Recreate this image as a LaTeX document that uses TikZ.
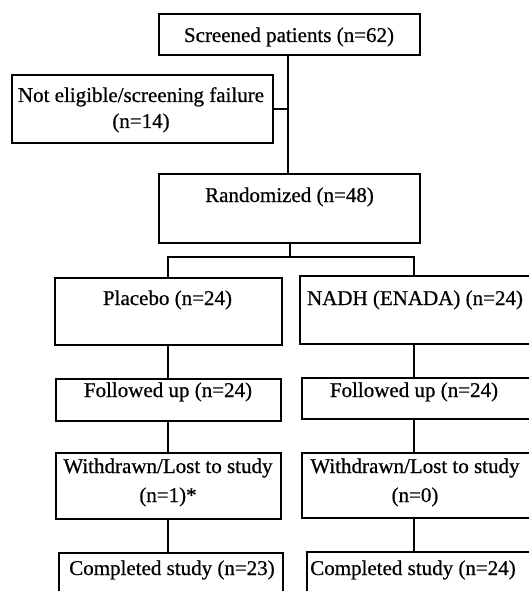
\documentclass[tikz,border=0pt]{standalone}
\usepackage{fontspec}
\setmainfont{Liberation Serif}
\newfontfamily\heavy{Liberation Serif}[FakeBold=0.7]
\begin{document}
\begin{tikzpicture}[x=1pt,y=-1pt,
  box/.style={draw, line width=1.6pt, inner sep=0pt, anchor=north west},
  txt/.style={anchor=base, inner sep=0pt, font=\heavy\fontsize{21}{26}\selectfont},
  link/.style={line width=1.6pt}]
\useasboundingbox (0,0) rectangle (529,591);
\clip (0,0) rectangle (529,591);
% boxes
\node[box, minimum width=261pt, minimum height=41pt] (scr) at (158,13) {};
\node[box, minimum width=261pt, minimum height=68pt] (ne)  at (11,74) {};
\node[box, minimum width=261pt, minimum height=69pt] (rnd) at (158,173) {};
\node[box, minimum width=227pt, minimum height=67pt] (pla) at (54,277) {};
\node[box, minimum width=234pt, minimum height=68pt] (nad) at (299,275) {};
\node[box, minimum width=225pt, minimum height=42pt] (fl)  at (55,378) {};
\node[box, minimum width=232pt, minimum height=41pt] (fr)  at (301,377) {};
\node[box, minimum width=225pt, minimum height=66pt] (wl)  at (55,452) {};
\node[box, minimum width=232pt, minimum height=65pt] (wr)  at (301,452) {};
\node[box, minimum width=224pt, minimum height=48pt] (cl)  at (58,552) {};
\node[box, minimum width=227pt, minimum height=48pt] (cr)  at (306,551) {};
% texts
\node[txt] (t1) at (289,42) {Screened patients (n=62)};
\node[txt] (t2a) at (141,102) {Not eligible/screening failure};
\node[txt] (t2b) at (141,128) {(n=14)};
\node[txt] (t3) at (289.5,202) {Randomized (n=48)};
\node[txt] (t4) at (167.5,305) {Placebo (n=24)};
\node[txt] (t5) at (415,305) {NADH (ENADA) (n=24)};
\node[txt] (t6) at (168,397) {Followed up (n=24)};
\node[txt] (t7) at (414,397) {Followed up (n=24)};
\node[txt] (t8a) at (168,473) {Withdrawn/Lost to study};
\node[txt] (t8b) at (168,502) {(n=1)*};
\node[txt] (t9a) at (415,473) {Withdrawn/Lost to study};
\node[txt] (t9b) at (415,502) {(n=0)};
\node[txt] (t10) at (172,575) {Completed study (n=23)};
\node[txt] (t11) at (413,575) {Completed study (n=24)};
% helper coordinates
\coordinate (trunk) at (288,0);
\coordinate (bar) at (290,257);
\coordinate (lx) at (168,0);
\coordinate (rx) at (414,0);
% connectors
\draw[link] (scr.south -| trunk) -- (rnd.north -| trunk);
\draw[link] (ne.east) -- (ne.east -| trunk);
\draw[link] (rnd.south -| bar) -- (bar);
\draw[link] (pla.north -| lx) |- (bar) -| (nad.north -| rx);
\draw[link] (pla.south -| lx) -- (fl.north -| lx);
\draw[link] (fl.south -| lx) -- (wl.north -| lx);
\draw[link] (wl.south -| lx) -- (cl.north -| lx);
\draw[link] (nad.south -| rx) -- (fr.north -| rx);
\draw[link] (fr.south -| rx) -- (wr.north -| rx);
\draw[link] (wr.south -| rx) -- (cr.north -| rx);
\end{tikzpicture}
\end{document}
